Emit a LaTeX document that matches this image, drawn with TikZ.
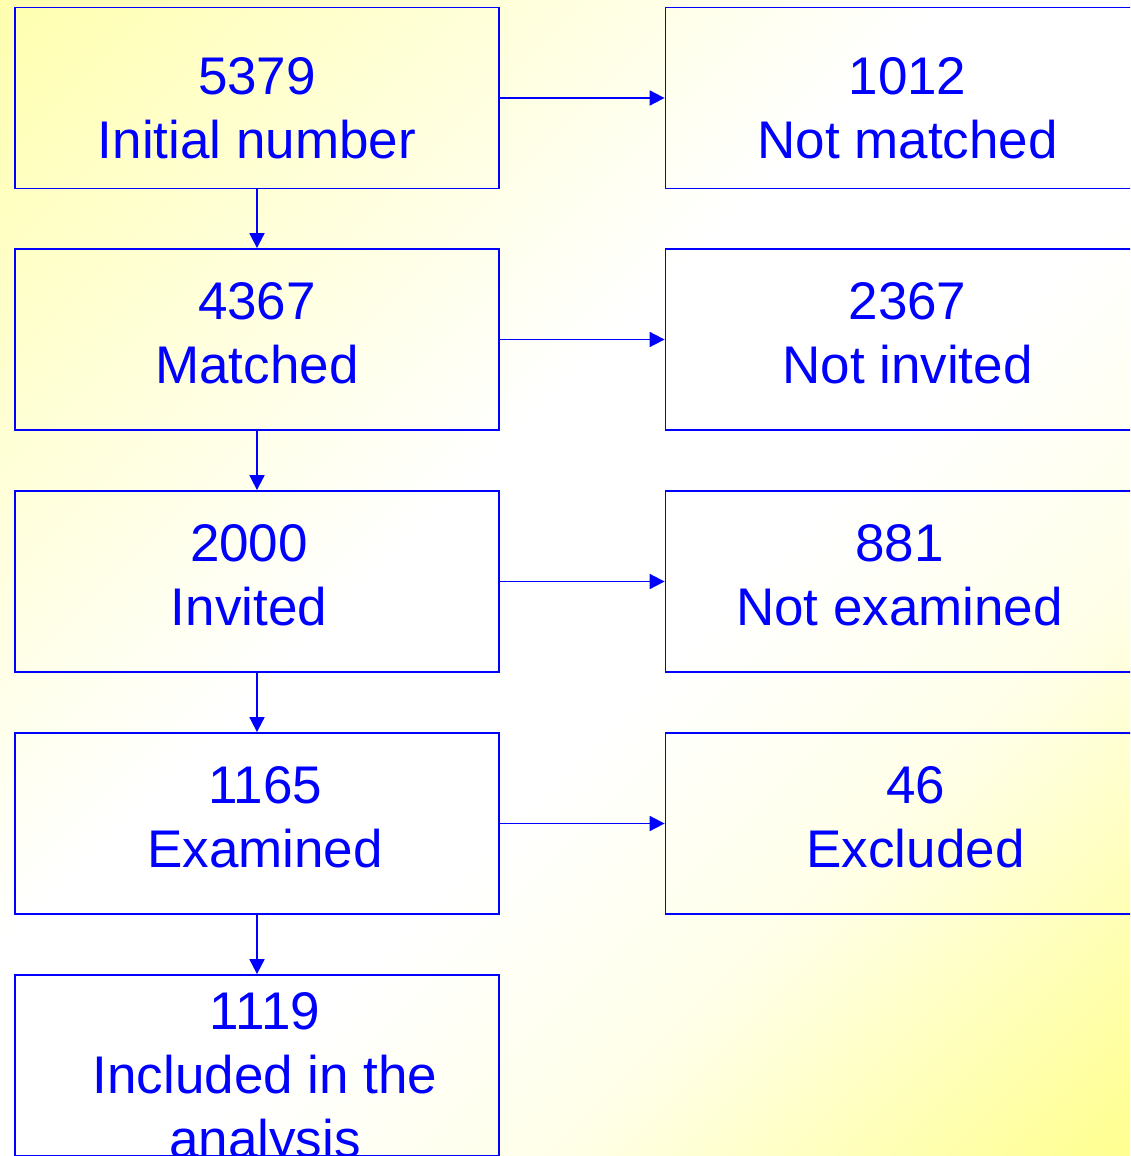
\documentclass[tikz,border=0pt]{standalone}
\usepackage{fontspec}
\setmainfont{Liberation Sans}
\usetikzlibrary{arrows.meta, positioning}
\definecolor{flowblue}{RGB}{0,0,255}
\definecolor{paleyellow}{RGB}{255,255,136}
\definecolor{lightyellow}{RGB}{255,255,196}
\definecolor{creamwhite}{RGB}{255,255,232}
\definecolor{midyellow}{RGB}{255,255,150}
\definecolor{deepyellow}{RGB}{255,255,102}
\pgfdeclarehorizontalshading{slidebg}{100bp}{color(0bp)=(paleyellow); color(22bp)=(lightyellow); color(44bp)=(white); color(56bp)=(white); color(68bp)=(creamwhite); color(84bp)=(midyellow); color(100bp)=(deepyellow)}

\begin{document}
\begin{tikzpicture}[x=1pt, y=-1pt,
  stage/.style={draw=flowblue, line width=1.8pt, minimum width=484pt, minimum height=181pt, inner sep=0pt},
  count/.style={text=flowblue, font=\fontsize{53}{64}\selectfont, align=center},
  flow/.style={draw=flowblue, line width=1.8pt, -{Triangle[length=15pt, width=15pt]}}]
  % Background
  \useasboundingbox (0,0) rectangle (1130,1156);
  \clip (0,0) rectangle (1130,1156);
  \shade[shading=slidebg, shading angle=-45] (0,0) rectangle (1130,1156);
  % Main flow (left column)
  \node[stage, label={[count, yshift=-10pt]center:{5379\\Initial number}}] (initial) at (257,98) {};
  \node[stage, label={[count, yshift=6pt]center:{4367\\Matched}}] (matched) at (257,339.5) {};
  \node[stage, label={[count, xshift=-8pt, yshift=6pt]center:{2000\\Invited}}] (invited) at (257,581.5) {};
  \node[stage, label={[count, xshift=8pt, yshift=6pt]center:{1165\\Examined}}] (examined) at (257,823.5) {};
  \node[stage, label={[count, xshift=8pt, yshift=-15pt]center:{1119\\Included in the\\analysis}}] (included) at (257,1065.5) {};
  % Drop-outs (right column)
  \node[stage, label={[count, yshift=-10pt]center:{1012\\Not matched}}] (notmatched) at (907.5,98) {};
  \node[stage, label={[count, yshift=6pt]center:{2367\\Not invited}}] (notinvited) at (907.5,339.5) {};
  \node[stage, label={[count, xshift=-8pt, yshift=6pt]center:{881\\Not examined}}] (notexamined) at (907.5,581.5) {};
  \node[stage, label={[count, xshift=8pt, yshift=6pt]center:{46\\Excluded}}] (excluded) at (907.5,823.5) {};
  % Arrows
  \foreach \a/\b in {initial/matched, matched/invited, invited/examined, examined/included}
    \draw[flow] (\a) -- (\b);
  \foreach \a/\b in {initial/notmatched, matched/notinvited, invited/notexamined, examined/excluded}
    \draw[flow] (\a) -- (\b);
\end{tikzpicture}
\end{document}
